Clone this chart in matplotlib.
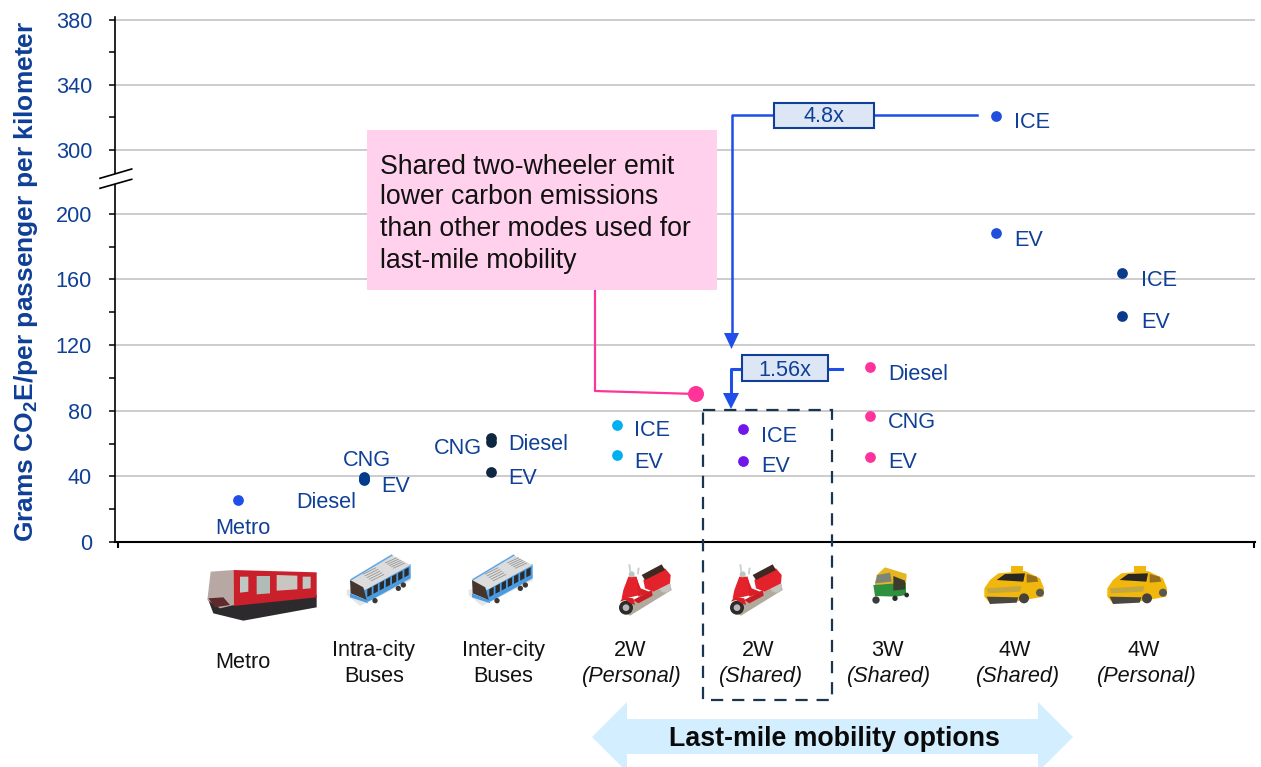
import numpy as np
import matplotlib
matplotlib.use("Agg")
import matplotlib.pyplot as plt
from matplotlib.patches import Polygon, Rectangle, Circle, Ellipse

plt.rcParams['font.family'] = ['Liberation Sans', 'DejaVu Sans']
plt.rcParams['mathtext.fontset'] = 'custom'
plt.rcParams['mathtext.rm'] = 'Liberation Sans'
plt.rcParams['mathtext.bf'] = 'Liberation Sans:bold'

# ---------- data ----------
metro_vals = [25.6]
intra_vals = [39.5, 38.5, 37.5]
inter_vals = [63.4, 60.9, 42.8]
p2w_vals = [71.3, 53.2]
s2w_vals = [68.7, 49.4]
s3w_vals = [106.4, 76.6, 51.8]
s4w_vals = [320.7, 188.3]
p4w_vals = [163.9, 137.7]

series_vals = [metro_vals, intra_vals, inter_vals, p2w_vals, s2w_vals, s3w_vals, s4w_vals, p4w_vals]
series_cols = ['#1F4FE8', '#003A8C', '#0E2841', '#00B0F0', '#6F16E8', '#FF339C', '#1F4FDB', '#0B3A8C']

major_ticks = [0, 40, 80, 120, 160, 200, 300, 340, 380]
minor_ticks = [20, 60, 100, 140, 180, 320, 360]

cat_line1 = ['Metro', 'Intra-city', 'Inter-city', '2W', '2W', '3W', '4W', '4W']
cat_line2 = ['', 'Buses', 'Buses', '(Personal)', '(Shared)', '(Shared)', '(Shared)', '(Personal)']

callout_lines = ['Shared two-wheeler emit', 'lower carbon emissions',
                 'than other modes used for', 'last-mile mobility']

# (text, x px, y px, alignment) for point labels
point_labels = [
    ('Metro', 243, 528, 'center'), ('CNG', 367, 460, 'center'), ('Diesel', 326, 502, 'center'),
    ('EV', 381, 486, 'left'), ('CNG', 458, 448, 'center'), ('Diesel', 508, 445, 'left'),
    ('EV', 508, 478, 'left'), ('ICE', 634, 431, 'left'), ('EV', 634, 462, 'left'),
    ('ICE', 761, 436, 'left'), ('EV', 761, 467, 'left'), ('Diesel', 888, 375, 'left'),
    ('CNG', 888, 422, 'left'), ('EV', 888, 463, 'left'), ('ICE', 1014, 122, 'left'),
    ('EV', 1014, 241, 'left'), ('ICE', 1141, 281, 'left'), ('EV', 1141, 322, 'left'),
]

W, H = 1261, 767
BLUE_TXT = '#0F3F96'
FS = 15.6
fig = plt.figure(figsize=(W / 100, H / 100), dpi=100, facecolor='white')

L, R, T, B = 115, 1255, 17, 542
ax = fig.add_axes([L / W, 1 - B / H, (R - L) / W, (B - T) / H])

# broken axis: piecewise linear y scale
brk_v = [0, 200, 300, 380]
brk_u = [0, 200, 239.06, 318.3]


def fwd(v):
    v = np.asarray(v, dtype=float)
    return np.where(v > 300, 239.06 + (v - 300) * 0.9905, np.interp(v, brk_v, brk_u))


def inv(u):
    u = np.asarray(u, dtype=float)
    return np.where(u > 239.06, 300 + (u - 239.06) / 0.9905, np.interp(u, brk_u, brk_v))


ax.set_yscale('function', functions=(fwd, inv))
ax.set_ylim(0, 381.7)
ax.set_xlim(1 + (L - 238) / 126.3, 1 + (R - 238) / 126.3)

for g in major_ticks[1:]:
    ax.axhline(g, color='#BEBEBE', lw=1.1, zorder=1)

for i, (vals, c) in enumerate(zip(series_vals, series_cols)):
    ax.scatter([i + 1] * len(vals), vals, s=60, color=c, linewidths=0, zorder=3, clip_on=False)

ax.set_yticks(major_ticks)
ax.set_yticks(minor_ticks, minor=True)
ax.set_yticklabels([str(t) for t in major_ticks], fontsize=FS, color=BLUE_TXT)
ax.yaxis.set_minor_formatter(plt.NullFormatter())
ax.tick_params(axis='y', which='both', length=4.5, width=1.1, direction='out', pad=12)
ax.set_xticks([ax.get_xlim()[0] + 0.02, ax.get_xlim()[1] - 0.01])
ax.set_xticklabels(['', ''])
ax.tick_params(axis='x', length=4, width=1.5, direction='out')
ax.spines['top'].set_visible(False)
ax.spines['right'].set_visible(False)
ax.spines['left'].set_linewidth(1.2)
ax.spines['bottom'].set_linewidth(1.5)

# ---------- overlay in pixel coordinates ----------
ov = fig.add_axes([0, 0, 1, 1], facecolor='none')
ov.set_xlim(0, W)
ov.set_ylim(H, 0)
ov.axis('off')

ov.text(26, 281, r'Grams CO$\mathbf{_2}$E/per passenger per kilometer', rotation=90, ha='center',
        va='center', fontsize=19, fontweight='bold', color=BLUE_TXT)

for txt, x, y, ha in point_labels:
    ov.text(x, y, txt, ha=ha, va='center', fontsize=FS, color=BLUE_TXT, zorder=6)

# categories
cat_x1 = [243, 374, 503, 630, 758, 887, 1015, 1144]
cat_x2 = [243, 374, 503, 632, 761, 889, 1018, 1147]
for i in range(8):
    if cat_line2[i] == '':
        ov.text(cat_x1[i], 663, cat_line1[i], ha='center', va='center', fontsize=FS, color='#111111')
    else:
        ov.text(cat_x1[i], 650.5, cat_line1[i], ha='center', va='center', fontsize=FS, color='#111111')
        style = 'italic' if cat_line2[i].startswith('(') else 'normal'
        ov.text(cat_x2[i], 676.5, cat_line2[i], ha='center', va='center', fontsize=FS,
                style=style, color='#111111')

# axis break
ov.add_patch(Polygon([(100, 178.3), (131.7, 169), (131.7, 179.3), (100, 188.3)], fc='white', ec='none', zorder=5))
ov.plot([100, 131.7], [178.3, 169], color='black', lw=1.2, zorder=6)
ov.plot([100, 131.7], [188.3, 179.3], color='black', lw=1.2, zorder=6)

# callout
PINK = '#FF3399'
ov.plot([595, 595, 696], [290, 391, 394], color=PINK, lw=1.6, zorder=4)
ov.add_patch(Ellipse((696, 394), 16, 16, fc=PINK, ec='none', zorder=5))
ov.add_patch(Rectangle((367, 130), 350, 160, fc='#FFD1EC', ec='none', zorder=4))
for line, y in zip(callout_lines, [166.5, 197.5, 228.5, 260.5]):
    ov.text(380, y, line, ha='left', va='center', fontsize=19.2, color='#111111', zorder=5)

# multipliers
ARROW = '#1F4FE8'
ov.plot([977, 732, 732], [115, 115, 335], color=ARROW, lw=1.8, zorder=4)
ov.add_patch(Polygon([(724, 333), (739, 333), (731.5, 349)], fc=ARROW, ec='none', zorder=4))
ov.add_patch(Rectangle((774, 103), 100, 25, fc='#DCE6F5', ec=BLUE_TXT, lw=1.5, zorder=5))
ov.text(824, 117, '4.8x', ha='center', va='center', fontsize=FS, color=BLUE_TXT, zorder=6)
ov.plot([742, 731, 731], [369, 369, 394], color=ARROW, lw=2.2, zorder=4)
ov.plot([828, 842], [369, 369], color=ARROW, lw=2.2, zorder=4)
ov.add_patch(Polygon([(723, 393), (739, 393), (731, 409)], fc=ARROW, ec='none', zorder=4))
ov.add_patch(Rectangle((742, 354.5), 86, 26, fc='#DCE6F5', ec=BLUE_TXT, lw=1.5, zorder=5))
ov.text(785, 370, '1.56x', ha='center', va='center', fontsize=FS, color=BLUE_TXT, zorder=6)

# dashed highlight
ov.add_patch(Rectangle((703, 410), 128.5, 290, fc='none', ec='#1A3550', lw=1.6,
                       linestyle=(0, (5.5, 4)), zorder=4))

# two-way arrow
ov.add_patch(Polygon([(592, 737), (627, 702), (627, 719), (1038, 719), (1038, 702), (1073, 737),
                      (1038, 772), (1038, 754), (627, 754), (627, 772)], fc='#D3EFFF', ec='none', zorder=2))
ov.text(834.5, 739.5, 'Last-mile mobility options', ha='center', va='center', fontsize=19.3,
        fontweight='bold', color='#0A0A0A', zorder=3)


# ---------- icons (decorative, drawn in px) ----------
def poly(pts, c, ox, oy, z=3):
    ov.add_patch(Polygon([(ox + x / 3, oy + y / 3) for x, y in pts], fc=c, ec='none', zorder=z))


def disc(x, y, r, c, ox, oy, z=4):
    ov.add_patch(Circle((ox + x / 3, oy + y / 3), r / 3, fc=c, ec='none', zorder=z))


def train(ox, oy):
    poly([(25, 600), (350, 585), (350, 622), (130, 662), (40, 640)], '#2C2A2C', ox, oy)
    poly([(100, 510), (350, 517), (350, 592), (100, 618)], '#C9202C', ox, oy)
    poly([(32, 515), (100, 510), (102, 615), (60, 625), (22, 600)], '#B8A8A4', ox, oy)
    poly([(25, 595), (70, 592), (90, 615), (45, 622)], '#5E2A2C', ox, oy)
    poly([(120, 530), (145, 530), (145, 575), (120, 578)], '#BFC7C2', ox, oy, 4)
    poly([(170, 528), (210, 528), (210, 580), (170, 583)], '#AFBDB6', ox, oy, 4)
    poly([(230, 525), (292, 527), (292, 568), (230, 572)], '#C9C5C0', ox, oy, 4)
    poly([(308, 530), (332, 530), (332, 565), (308, 567)], '#BFC7C2', ox, oy, 4)


def bus(ox, oy):
    poly([(20, 135), (60, 168), (212, 92), (212, 66), (20, 120)], '#E6E6E6', ox, oy)
    poly([(70, 115), (212, 42), (212, 85), (85, 155), (70, 150)], '#4A9BE0', ox, oy)
    poly([(30, 90), (155, 15), (212, 45), (75, 120)], '#DCDCDC', ox, oy)
    poly([(30, 88), (155, 13), (159, 16), (34, 91)], '#5FA8E8', ox, oy, 4)
    poly([(30, 90), (70, 112), (80, 150), (32, 130)], '#45352D', ox, oy)
    poly([(30, 130), (80, 150), (85, 160), (30, 142)], '#4A9BE0', ox, oy, 4)
    for k in range(7):
        x0 = 82 + k * 18.5
        y0 = 118 - k * 9.8
        poly([(x0, y0), (x0 + 13, y0 - 7), (x0 + 13, y0 + 16), (x0, y0 + 23)], '#2B2B2B', ox, oy, 4)
    for k in range(5):
        poly([(68 + k * 6, 72 + k * 5), (108 + k * 6, 52 + k * 5), (109 + k * 6, 54 + k * 5),
              (69 + k * 6, 74 + k * 5)], '#8F8F8F', ox, oy, 4)
        poly([(135 + k * 6, 38 + k * 4), (170 + k * 6, 22 + k * 4), (171 + k * 6, 24 + k * 4),
              (136 + k * 6, 40 + k * 4)], '#8F8F8F', ox, oy, 4)
    for x, y in [(105, 152), (175, 115), (190, 105)]:
        disc(x, y, 8, '#3A3735', ox, oy, 5)


def scooter(ox, oy):
    poly([(28, 165), (60, 182), (185, 105), (180, 85), (60, 140)], '#B3AA9E', ox, oy)
    disc(165, 95, 18, '#C7C3BE', ox, oy)
    disc(48, 158, 21, '#2E2B2A', ox, oy)
    disc(48, 158, 10, '#B8B8B8', ox, oy, 5)
    poly([(30, 140), (40, 125), (70, 130), (75, 150), (62, 145), (45, 135)], '#D81E27', ox, oy, 5)
    poly([(40, 105), (55, 65), (80, 65), (92, 120), (55, 128), (35, 130)], '#E3222B', ox, oy, 5)
    poly([(70, 135), (125, 105), (128, 122), (85, 145)], '#C91C24', ox, oy, 5)
    poly([(80, 70), (92, 100), (122, 112), (85, 125)], '#D81E27', ox, oy, 5)
    poly([(100, 75), (165, 40), (182, 60), (180, 85), (150, 100), (130, 110), (105, 100)], '#E3222B', ox, oy, 5)
    poly([(95, 60), (155, 28), (165, 45), (105, 75)], '#3E2A22', ox, oy, 6)
    disc(65, 58, 9, '#B9C6C0', ox, oy, 6)
    poly([(55, 28), (61, 28), (63, 50), (58, 50)], '#C8D0C8', ox, oy, 6)
    poly([(83, 38), (89, 38), (86, 58), (81, 58)], '#C8D0C8', ox, oy, 6)


def rickshaw(ox, oy):
    poly([(50, 45), (75, 22), (140, 42), (138, 72), (45, 75)], '#E5B61F', ox, oy)
    poly([(40, 75), (138, 68), (138, 105), (110, 110), (45, 108)], '#2F9040', ox, oy)
    poly([(52, 45), (90, 38), (95, 65), (45, 70)], '#7E8478', ox, oy, 4)
    poly([(100, 48), (135, 62), (135, 88), (100, 92)], '#3C3C2E', ox, oy, 4)
    disc(48, 120, 11, '#3A3A3A', ox, oy, 5)
    disc(105, 115, 8, '#2A2A2A', ox, oy, 5)
    disc(140, 105, 7, '#2A2A2A', ox, oy, 5)


def taxi(ox, oy):
    poly([(108, 18), (145, 18), (145, 35), (108, 35)], '#F2B70D', ox, oy)
    poly([(28, 85), (45, 60), (70, 40), (150, 33), (195, 55), (207, 85), (205, 110), (150, 120), (120, 125),
          (45, 130), (28, 110)], '#F2B70D', ox, oy)
    poly([(65, 60), (90, 42), (150, 40), (145, 65)], '#2A2620', ox, oy, 4)
    poly([(155, 42), (185, 50), (190, 65), (155, 68)], '#96701F', ox, oy, 4)
    poly([(35, 85), (140, 78), (135, 95), (40, 100)], '#C4A73E', ox, oy, 4)
    poly([(35, 110), (130, 112), (125, 128), (45, 132)], '#4A4640', ox, oy, 4)
    disc(147, 115, 15, '#45423E', ox, oy, 5)
    disc(195, 98, 12, '#5A5650', ox, oy, 5)


train(200, 400)
bus(340, 550)
bus(462, 550)
scooter(610, 555)
scooter(721, 555)
rickshaw(860, 560)
taxi(975, 560)
taxi(1098, 560)

fig.savefig('out.png', dpi=100)
